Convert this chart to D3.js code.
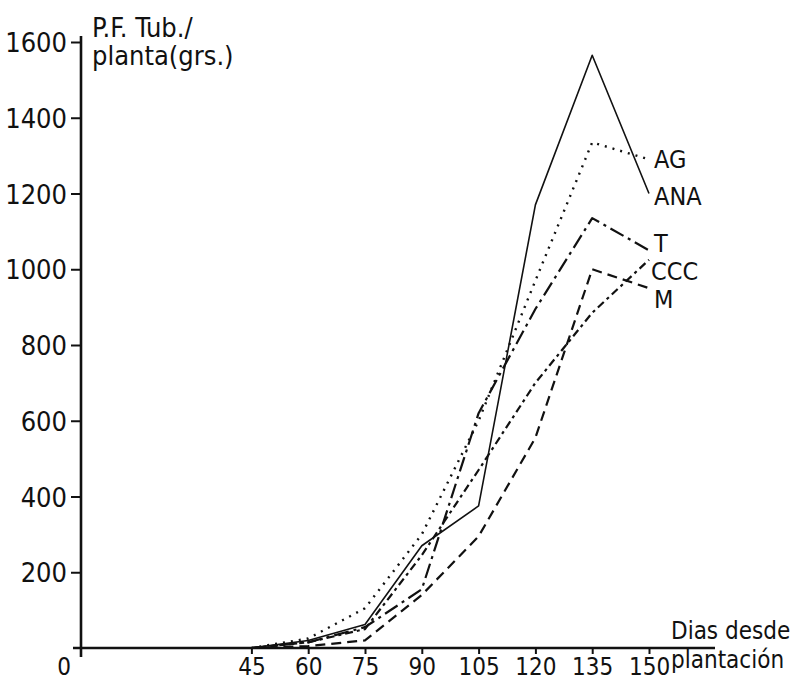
<!DOCTYPE html>
<html>
<head>
<meta charset="utf-8">
<script src="https://d3js.org/d3.v7.min.js"></script>
<style>
  body { margin: 0; background: #fff; }
  text { font-family: "Liberation Sans Narrow", "DejaVu Sans Condensed", "DejaVu Sans", sans-serif; fill: #111; }
</style>
</head>
<body>
<div id="chart"></div>
<script>
// days after planting
var days = [45, 60, 75, 90, 105, 120, 135, 150];

// fresh weight of tubers per plant (grs)
var ana = [0, 20, 62, 270, 375, 1170, 1565, 1200];
var ag  = [0, 25, 105, 300, 600, 970, 1335, 1290];
var t   = [0, 15, 55, 155, 620, 895, 1135, 1050];
var ccc = [0, 15, 50, 245, 470, 700, 885, 1025];
var m   = [0, 5, 20, 140, 295, 555, 1000, 950];

var seriesNames = ["AG", "ANA", "T", "CCC", "M"];
var seriesValues = [ag, ana, t, ccc, m];

var yTicks = [200, 400, 600, 800, 1000, 1200, 1400, 1600];
var xTicks = [45, 60, 75, 90, 105, 120, 135, 150];

// line style per serie
var dashes = {
  "AG": "2,6",
  "ANA": null,
  "T": "15,5,3,5",
  "CCC": "8,4,3,4",
  "M": "10,6"
};
var widths = { "AG": 2.4, "ANA": 1.6, "T": 2.2, "CCC": 2.2, "M": 2.2 };

// label positions next to the last point
var labelY = { "AG": 168, "ANA": 205, "T": 252, "CCC": 280, "M": 308 };

var W = 803, H = 681;

var svg = d3.select("#chart")
  .append("svg")
  .attr("width", W)
  .attr("height", H);

var x = d3.scaleLinear().domain([0, 150]).range([81, 649]);
var y = d3.scaleLinear().domain([0, 1600]).range([648, 42]);

// y axis
var yAxis = d3.axisLeft(y)
  .tickValues(yTicks)
  .tickSize(10)
  .tickPadding(4)
  .tickFormat(d3.format("d"));

var gy = svg.append("g")
  .attr("transform", "translate(" + x(0) + ",0)")
  .call(yAxis);
gy.select(".domain").remove();
gy.selectAll(".tick line").attr("stroke", "#111").attr("stroke-width", 2);
gy.selectAll(".tick text")
  .style("font-size", "27px")
  .attr("dy", "0.36em");

// x axis
var xAxis = d3.axisBottom(x)
  .tickValues(xTicks)
  .tickSize(6)
  .tickFormat(d3.format("d"));

var gx = svg.append("g")
  .attr("transform", "translate(0," + y(0) + ")")
  .call(xAxis);
gx.select(".domain").remove();
gx.selectAll(".tick line").attr("stroke", "#111").attr("stroke-width", 2);
gx.selectAll(".tick text")
  .style("font-size", "24px")
  .attr("y", 27)
  .attr("dy", 0);

// axis lines, a bit longer than the data range
svg.append("line")
  .attr("x1", x(0)).attr("x2", x(0))
  .attr("y1", y(1600) - 6).attr("y2", y(0) + 9)
  .attr("stroke", "#111").attr("stroke-width", 2.6);

svg.append("line")
  .attr("x1", x(0) - 8).attr("x2", 715)
  .attr("y1", y(0)).attr("y2", y(0))
  .attr("stroke", "#111").attr("stroke-width", 2.6);

// origin
svg.append("text")
  .attr("x", 64).attr("y", 675)
  .style("font-size", "24px")
  .style("text-anchor", "middle")
  .text("0");

// axis titles
svg.append("text")
  .attr("x", 92).attr("y", 37)
  .style("font-size", "27px")
  .text("P.F. Tub./");
svg.append("text")
  .attr("x", 92).attr("y", 65)
  .style("font-size", "27px")
  .text("planta(grs.)");

svg.append("text")
  .attr("x", 671).attr("y", 639)
  .style("font-size", "24px")
  .text("Dias desde");
svg.append("text")
  .attr("x", 671).attr("y", 668)
  .style("font-size", "24px")
  .text("plantación");

// the lines
var line = d3.line()
  .x(function(d, i) { return x(days[i]); })
  .y(function(d) { return y(d); });

seriesNames.forEach(function(name, k) {
  svg.append("path")
    .datum(seriesValues[k])
    .attr("fill", "none")
    .attr("stroke", "#111")
    .attr("stroke-width", widths[name])
    .attr("stroke-dasharray", dashes[name])
    .attr("stroke-linejoin", "round")
    .attr("d", line);

  svg.append("text")
    .attr("x", name == "CCC" ? 651 : 654)
    .attr("y", labelY[name])
    .style("font-size", "25px")
    .text(name);
});
</script>
</body>
</html>
